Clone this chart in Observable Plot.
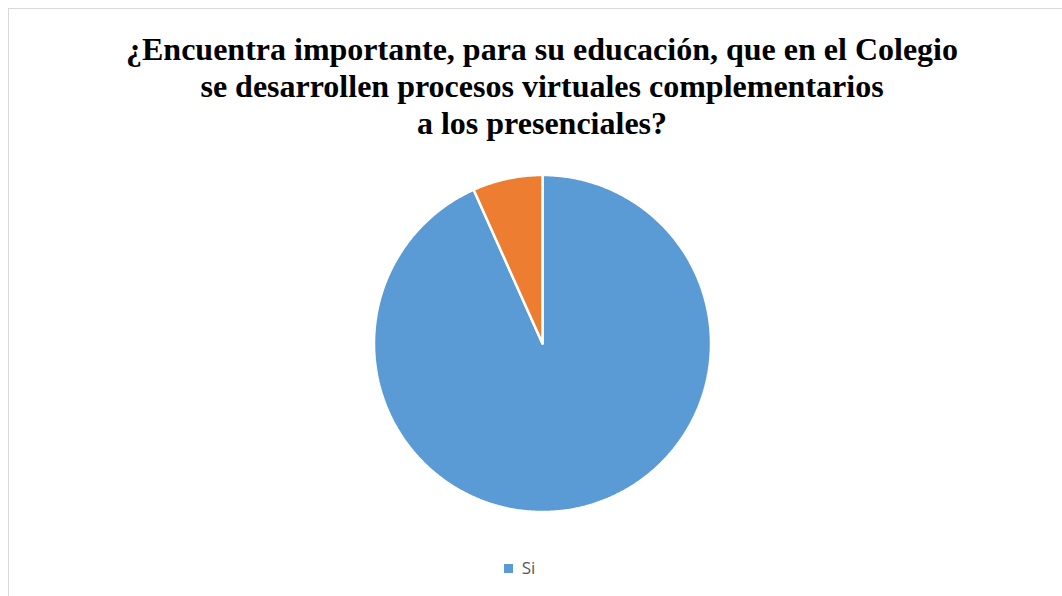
<!DOCTYPE html>
<html>
<head>
<meta charset="utf-8">
<script src="https://cdn.jsdelivr.net/npm/d3@7"></script>
<script src="https://cdn.jsdelivr.net/npm/@observablehq/plot@0.6"></script>
<style>
  html, body { margin: 0; padding: 0; background: #fff; }
  body { width: 1062px; height: 596px; position: relative; overflow: hidden; }
  #frame { position: absolute; left: 8px; top: 8px; width: 1100px; height: 640px; border: 1px solid #d9d9d9; box-sizing: border-box; }
  #title { position: absolute; left: 0; width: 1084px; top: 31px; text-align: center;
    font-family: "Liberation Serif", "Times New Roman", serif; font-weight: bold; font-size: 32px; line-height: 37px; color: #000; }
  #chart { position: absolute; left: 371.5px; top: 172.5px; }
  #legend { position: absolute; left: 0; width: 1039px; top: 556px; text-align: center; line-height: 24px;
    font-family: "Open Sans", "Liberation Sans", sans-serif; font-size: 17px; color: #595959; }
  #legend .sw { display: inline-block; width: 9px; height: 9px; margin-right: 9px; vertical-align: 1px; }
</style>
</head>
<body>
<div id="frame"></div>
<div id="title">¿Encuentra importante, para su educación, que en el Colegio<br>se desarrollen procesos virtuales complementarios<br>a los presenciales?</div>
<div id="chart"></div>
<div id="legend"></div>
<script>
const categories = ["Si", "No"];
const values = [93.3, 6.7];
const colors = ["#5B9BD5", "#ED7D31"];
const legendLabels = ["Si"];

const total = d3.sum(values);
const rows = [];
let start = 0;
categories.forEach((c, i) => {
  const a0 = start / total * 2 * Math.PI;
  const a1 = (start + values[i]) / total * 2 * Math.PI;
  start += values[i];
  rows.push({cat: c, x: 0, y: 0});
  const n = Math.max(2, Math.ceil((a1 - a0) / (Math.PI / 360)));
  for (let k = 0; k <= n; k++) {
    const a = a0 + (a1 - a0) * k / n;
    rows.push({cat: c, x: Math.sin(a), y: Math.cos(a)});
  }
  rows.push({cat: c, x: 0, y: 0});
});

const size = 340;
const chart = Plot.plot({
  width: size,
  height: size,
  margin: 1.5,
  x: {domain: [-1, 1], axis: null},
  y: {domain: [-1, 1], axis: null},
  color: {domain: categories, range: colors},
  marks: [
    Plot.line(rows, {x: "x", y: "y", z: "cat", fill: "cat", stroke: "white", strokeWidth: 2.5, strokeLinejoin: "miter", curve: "linear"})
  ]
});
document.getElementById("chart").appendChild(chart);

const leg = document.getElementById("legend");
legendLabels.forEach(l => {
  const i = categories.indexOf(l);
  const span = document.createElement("span");
  span.innerHTML = `<span class="sw" style="background:${colors[i]}"></span>${l}`;
  leg.appendChild(span);
});
</script>
</body>
</html>
